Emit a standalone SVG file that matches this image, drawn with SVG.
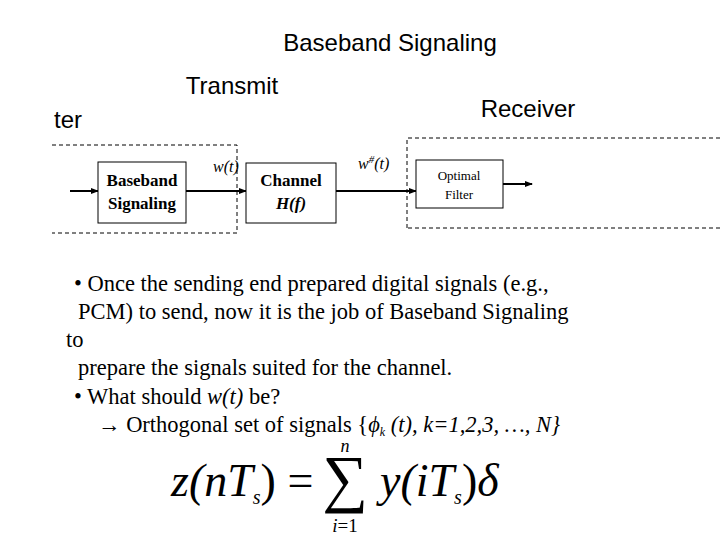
<svg xmlns="http://www.w3.org/2000/svg" width="720" height="540" viewBox="0 0 720 540">
<style>
.s{font-family:"Liberation Sans",Arial,sans-serif;fill:#000}
.t{font-family:"Liberation Serif","Times New Roman",serif;fill:#000}
.box{fill:#fff;stroke:#000;stroke-width:1}
.dash{fill:none;stroke:#000;stroke-width:1;stroke-dasharray:4,3}
.ln{stroke:#000;stroke-width:2;fill:none;marker-end:url(#a)}
</style>
<defs><marker id="a" markerWidth="8" markerHeight="8" refX="7" refY="4" orient="auto" markerUnits="userSpaceOnUse"><path d="M0,1 L8,4 L0,7 z" fill="#000"/></marker></defs>
<rect width="720" height="540" fill="#fff"/>
<text class="s" x="390" y="51" font-size="24" text-anchor="middle">Baseband Signaling</text>
<text class="s" x="232" y="94" font-size="24" text-anchor="middle">Transmit</text>
<text class="s" x="528" y="117" font-size="24" text-anchor="middle">Receiver</text>
<text class="s" x="54" y="128" font-size="24">ter</text>
<path class="dash" d="M52,145 H237 V233 H52"/>
<path class="dash" d="M407,228 V138 H720 M720,228 H407"/>
<g id="connectors">
<line class="ln" x1="70" y1="191" x2="98" y2="191"/>
<line class="ln" x1="186" y1="191" x2="246" y2="191"/>
<line class="ln" x1="336" y1="191" x2="416" y2="191"/>
<line class="ln" x1="503" y1="184" x2="532" y2="184"/>
</g>
<g id="baseband"><rect class="box" x="98" y="162" width="88" height="61"/>
<text class="t" x="142" y="186" font-size="17" font-weight="bold" text-anchor="middle">Baseband</text>
<text class="t" x="142" y="209" font-size="17" font-weight="bold" text-anchor="middle">Signaling</text></g>
<g id="channel"><rect class="box" x="246" y="163" width="90" height="60"/>
<text class="t" x="291" y="186" font-size="17" font-weight="bold" text-anchor="middle">Channel</text>
<text class="t" x="291" y="209" font-size="17" font-weight="bold" font-style="italic" text-anchor="middle">H(f)</text></g>
<g id="filter"><rect class="box" x="416" y="160" width="87" height="48"/>
<text class="t" x="459" y="180" font-size="13" text-anchor="middle">Optimal</text>
<text class="t" x="459" y="199" font-size="13" text-anchor="middle">Filter</text></g>
<text class="t" x="213" y="172" font-size="16" font-style="italic">w(t)</text>
<text class="t" x="358" y="169" font-size="16" font-style="italic">w<tspan font-size="11" dy="-6">#</tspan><tspan dy="6">(t)</tspan></text>
<g class="t" font-size="22.5">
<text x="74" y="291">• Once the sending end prepared digital signals (e.g.,</text>
<text x="78" y="319">  PCM) to send,  now it is the job of Baseband Signaling</text>
<text x="66" y="347">to</text>
<text x="78" y="375">  prepare the signals suited for the channel.</text>
<text x="74" y="404">• What should <tspan font-style="italic">w(t)</tspan> be?</text>
<text x="98" y="432">→ Orthogonal set of signals {<tspan font-style="italic">ϕ</tspan><tspan font-size="12" font-style="italic" dy="4">k</tspan><tspan font-style="italic" dy="-4"> (t), k=1,2,3, …, N}</tspan></text>
</g>
<g class="t" font-style="italic">
<text x="171" y="496" font-size="46">z(nT<tspan font-size="20" dy="8">s</tspan><tspan dy="-8" font-style="normal">) =</tspan></text>
<text x="345" y="500" font-size="64" font-style="normal" text-anchor="middle">∑</text>
<text x="345" y="452" font-size="18" text-anchor="middle">n</text>
<text x="345" y="532" font-size="19" text-anchor="middle">i<tspan font-style="normal">=1</tspan></text>
<text x="380" y="496" font-size="46">y(iT<tspan font-size="20" dy="8">s</tspan><tspan dy="-8" font-style="normal">)</tspan>δ</text>
</g>
</svg>
